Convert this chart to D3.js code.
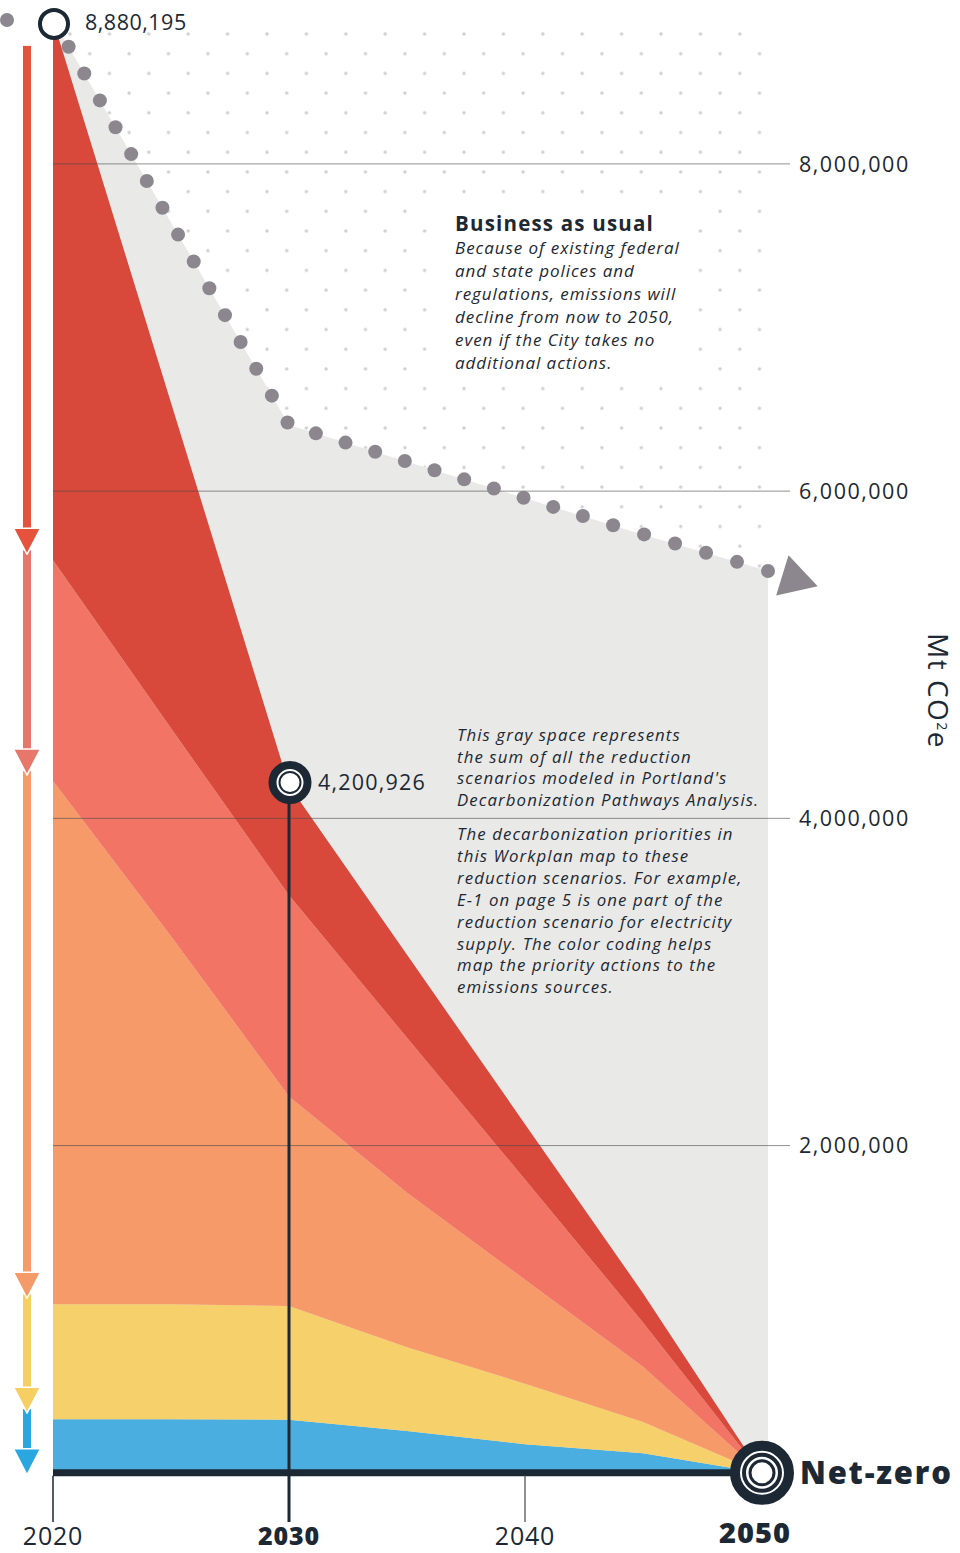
<!DOCTYPE html>
<html><head><meta charset="utf-8">
<script src="https://cdn.jsdelivr.net/npm/d3@7"></script>
<style>
body{margin:0;background:#fff}
svg{display:block}
text{font-family:"Open Sans",sans-serif;fill:#1c2833}
</style>
</head><body>
<svg id="chart" width="960" height="1553"></svg>
<script>
// ---------- data ----------
const years      = [2020, 2025, 2030, 2035, 2040, 2045, 2050];
const blueVals   = [328000, 328000, 324000, 256000, 175000, 120000, 0];
const yellowVals = [702000, 702000, 696000, 511000, 370000, 190000, 0];
const orangeVals = [3198000, 2250000, 1280000, 945000, 635000, 338000, 0];
const salmonVals = [1349000, 1270000, 1230000, 947000, 613000, 271000, 0];
const redVals    = [3303195, 1990000, 670926, 507000, 338000, 179000, 0];

const bauYears = [2020, 2030, 2035, 2040, 2045, 2050];
const bauVals  = [8880195, 6404000, 6180000, 5957000, 5734000, 5512000];

const yTicks = [2000000, 4000000, 6000000, 8000000];
const xTicks = [2020, 2030, 2040, 2050];
const boldYears = [2030, 2050];

const layerKeys   = ["blue", "yellow", "orange", "salmon", "red"];
const layerColors = {blue:"#4aaee0", yellow:"#f6d06a", orange:"#f69a6a", salmon:"#f27464", red:"#d9493b"};
const arrowColors = {blue:"#2aa7e0", yellow:"#f5cf62", orange:"#f59a69", salmon:"#e8776b", red:"#e5533d"};

const bauText = ["Because of existing federal","and state polices and","regulations, emissions will","decline from now to 2050,","even if the City takes no","additional actions."];
const grayText1 = ["This gray space represents","the sum of all the reduction","scenarios modeled in Portland's","Decarbonization Pathways Analysis."];
const grayText2 = ["The decarbonization priorities in","this Workplan map to these","reduction scenarios. For example,","E-1 on page 5 is one part of the","reduction scenario for electricity","supply. The color coding helps","map the priority actions to the","emissions sources."];

// ---------- setup ----------
const svg = d3.select("#chart");
const dark = "#1c2833";
const x = d3.scaleLinear().domain([2020, 2050]).range([53, 761]);
const y = d3.scaleLinear().domain([0, 8000000]).range([1472.8, 163.9]);

const rows = years.map((yr, i) => ({year: yr, blue: blueVals[i], yellow: yellowVals[i], orange: orangeVals[i], salmon: salmonVals[i], red: redVals[i]}));
const series = d3.stack().keys(layerKeys)(rows);
const bau = bauYears.map((yr, i) => ({year: yr, v: bauVals[i]}));

// dot pattern
const defs = svg.append("defs");
const pat = defs.append("pattern").attr("id","dots").attr("patternUnits","userSpaceOnUse")
  .attr("x", 70 - 9.85).attr("y", 34 - 9.85).attr("width", 39.4).attr("height", 39.4);
pat.append("circle").attr("cx",9.85).attr("cy",9.85).attr("r",1.7).attr("fill","#cfcfd1");
pat.append("circle").attr("cx",29.55).attr("cy",29.55).attr("r",1.7).attr("fill","#cfcfd1");

// dotted region above BAU
svg.append("path").datum(bau)
  .attr("d", d3.area().x(d => x(d.year)+ (d.year===2050?6:0)).y0(25).y1(d => y(d.v)))
  .attr("fill","url(#dots)");

// gray area below BAU
svg.append("path").datum(bau)
  .attr("d", d3.area().x(d => x(d.year)+ (d.year===2050?7:0)).y0(y(0)).y1(d => y(d.v)))
  .attr("fill","#e9e9e8");

// stacked areas
const area = d3.area().x(d => x(d.data.year)).y0(d => y(d[0])).y1(d => y(d[1]));
svg.append("g").selectAll("path").data(series).join("path")
  .attr("d", area).attr("fill", d => layerColors[d.key]);

// gridlines + y labels
const yg = svg.append("g");
yg.selectAll("line").data(yTicks).join("line")
  .attr("x1", 53).attr("x2", 790).attr("y1", d => y(d)).attr("y2", d => y(d))
  .attr("stroke", "#4a4a4a").attr("stroke-opacity", 0.6).attr("stroke-width", 1);
yg.selectAll("text").data(yTicks).join("text")
  .attr("x", 799).attr("y", d => y(d)).attr("dy", "0.36em")
  .attr("font-size", 21.5).attr("letter-spacing", 1.5).text(d => d3.format(",")(d));

// BAU dots along path
const bauLine = d3.line().x(d => x(d.year)).y(d => y(d.v));
const hidden = svg.append("path").datum(bau).attr("d", bauLine).attr("fill","none").attr("stroke","none");
const node = hidden.node();
const L = node.getTotalLength();
const nDots = 31;
const dotPts = d3.range(0, nDots + 1).map(i => node.getPointAtLength(L * i / nDots));
svg.append("g").selectAll("circle").data(dotPts).join("circle")
  .attr("cx", d => d.x + (d.x > 600 ? (d.x-600)/161*7 : 0)).attr("cy", d => d.y).attr("r", 7).attr("fill", "#8c868f");
// extra dot at left
svg.append("circle").attr("cx", 7).attr("cy", 20).attr("r", 7).attr("fill", "#8c868f");

// BAU arrow head
{
  const a = bau[bau.length-2], b = bau[bau.length-1];
  const ex = x(b.year) + 7, ey = y(b.v);
  const ang = Math.atan2(y(b.v) - y(a.v), x(b.year) - x(a.year));
  const ux = Math.cos(ang), uy = Math.sin(ang), px = -uy, py = ux;
  const bx = ex + ux*15, by = ey + uy*15;
  const tx = ex + ux*52, ty = ey + uy*52;
  svg.append("polygon")
    .attr("points", [[bx+px*21, by+py*21],[tx,ty],[bx-px*21, by-py*21]].map(p=>p.join(",")).join(" "))
    .attr("fill", "#8c868f");
}

// BAU text
svg.append("rect").attr("x", 442).attr("y", 205).attr("width", 255).attr("height", 175).attr("fill", "#fff");
svg.append("text").attr("x", 455).attr("y", 231).attr("font-size", 20.5).attr("font-weight", 700).attr("letter-spacing", 1.2).attr("fill","#111").text("Business as usual");
svg.append("g").selectAll("text").data(bauText).join("text")
  .attr("x", 455).attr("y", (d,i) => 254 + i*23).attr("font-size", 17).attr("font-style","italic").attr("letter-spacing", 0.95).attr("fill","#111").text(d => d);

svg.append("g").selectAll("text").data(grayText1).join("text")
  .attr("x", 457).attr("y", (d,i) => 741 + i*21.7).attr("font-size", 16.8).attr("font-style","italic").attr("letter-spacing", 1.1).attr("fill","#111").text(d => d);
svg.append("g").selectAll("text").data(grayText2).join("text")
  .attr("x", 457).attr("y", (d,i) => 840 + i*21.9).attr("font-size", 16.8).attr("font-style","italic").attr("letter-spacing", 1.1).attr("fill","#111").text(d => d);

// baseline
svg.append("line").attr("x1", x(2020)).attr("x2", x(2050)).attr("y1", y(0)).attr("y2", y(0))
  .attr("stroke", dark).attr("stroke-width", 7);

// x ticks
const tickStyle = {2020:{c:dark,w:1.5}, 2040:{c:"#6b6b6b",w:1.5}};
svg.append("g").selectAll("line").data(xTicks.filter(t => tickStyle[t])).join("line")
  .attr("x1", d => x(d)).attr("x2", d => x(d)).attr("y1", y(0)+3).attr("y2", 1522)
  .attr("stroke", d => tickStyle[d].c).attr("stroke-width", d => tickStyle[d].w);
// 2030 drop line
const v2030 = series[series.length-1][2][1];
svg.append("line").attr("x1", x(2030)).attr("x2", x(2030)).attr("y1", y(v2030)).attr("y2", 1522)
  .attr("stroke", dark).attr("stroke-width", 3);

svg.append("g").selectAll("text").data(xTicks).join("text")
  .attr("x", d => x(d) - (d===2050?6:0)).attr("y", d => d===2050 ? 1543 : 1545).attr("text-anchor","middle")
  .attr("font-size", d => d===2050 ? 29 : 25)
  .attr("font-weight", d => boldYears.includes(d) ? 800 : 400)
  .attr("letter-spacing", d => d===2050 ? 1 : 0.8)
  .text(d => d);

// start circle
const v2020 = series[series.length-1][0][1];
svg.append("circle").attr("cx", x(2020)+1).attr("cy", y(v2020)+4).attr("r", 14)
  .attr("fill", "#fff").attr("stroke", dark).attr("stroke-width", 4);
svg.append("text").attr("x", 85).attr("y", 30).attr("font-size", 21.5).attr("letter-spacing", 0.5)
  .text(d3.format(",")(v2020));

// 2030 circle
{
  const cx = x(2030)+1, cy = y(v2030) - 3;
  svg.append("circle").attr("cx", cx).attr("cy", cy).attr("r", 17.5).attr("fill","#fff").attr("stroke", dark).attr("stroke-width", 8);
  svg.append("circle").attr("cx", cx).attr("cy", cy).attr("r", 10.5).attr("fill","#fff").attr("stroke", dark).attr("stroke-width", 2);
  svg.append("text").attr("x", 318).attr("y", 790).attr("font-size", 21.5).attr("letter-spacing", 1.2)
    .text(d3.format(",")(v2030));
}

// net-zero target
{
  const cx = x(2050)+1, cy = y(0);
  svg.append("circle").attr("cx", cx).attr("cy", cy).attr("r", 27).attr("fill","#fff").attr("stroke", dark).attr("stroke-width", 10);
  svg.append("circle").attr("cx", cx).attr("cy", cy).attr("r", 18).attr("fill","#fff").attr("stroke", dark).attr("stroke-width", 4);
  svg.append("circle").attr("cx", cx).attr("cy", cy).attr("r", 12).attr("fill","#fff").attr("stroke", dark).attr("stroke-width", 3);
  svg.append("text").attr("x", 800).attr("y", 1484).attr("font-size", 31).attr("font-weight", 800).attr("letter-spacing", 1.8)
    .text("Net-zero");
}

// left arrows (drawn bottom layer first)
const ax = 27;
const arrows = series.map(s => ({key: s.key, top: s[0][1], bottom: s[0][0]}));
const ag = svg.append("g");
arrows.forEach(a => {
  const tip = y(a.bottom) + (a.key === "blue" ? 2 : -6);
  const start = a.key === "red" ? y(a.top) + 26 : y(a.top) - 10;
  ag.append("rect").attr("x", ax - 4).attr("y", start).attr("width", 8).attr("height", tip - 20 - start)
    .attr("fill", arrowColors[a.key]);
  ag.append("polygon")
    .attr("points", [[ax-13.5, tip-26],[ax+13.5, tip-26],[ax, tip]].map(p=>p.join(",")).join(" "))
    .attr("fill", arrowColors[a.key]).attr("stroke", "#fff").attr("stroke-width", 1.5).attr("stroke-linejoin","round");
});

// y axis title
const yt = svg.append("text").attr("transform", "translate(928,691) rotate(90)")
  .attr("text-anchor", "middle").attr("font-size", 28).attr("letter-spacing", 1.5).attr("fill","#111");
yt.append("tspan").text("Mt CO");
yt.append("tspan").attr("baseline-shift","super").attr("font-size", 14).text("2");
yt.append("tspan").text("e");
</script>
</body></html>
